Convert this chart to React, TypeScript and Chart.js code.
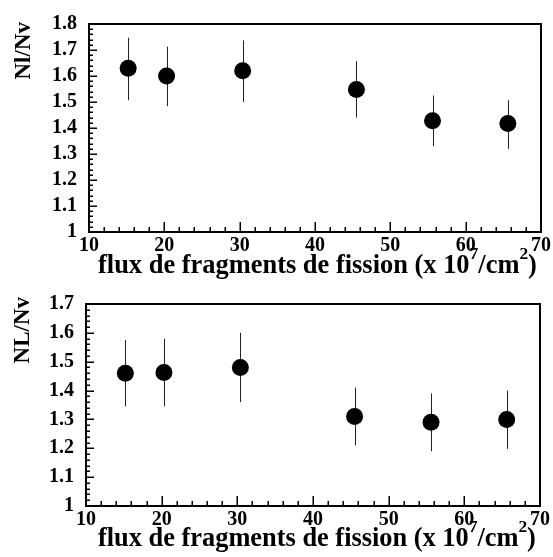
import React, { useEffect, useRef } from "react";
import { Chart, registerables } from "chart.js";

Chart.register(...registerables);

// ---- data ----
const flux = [15.2, 20.3, 30.4, 45.5, 55.6, 65.6];

const ratioNl = [1.63, 1.6, 1.62, 1.548, 1.428, 1.417];
const ratioNlHigh = [1.747, 1.713, 1.737, 1.657, 1.525, 1.507];
const ratioNlLow = [1.507, 1.484, 1.5, 1.44, 1.33, 1.32];

const ratioNL = [1.46, 1.463, 1.48, 1.31, 1.29, 1.3];
const ratioNLHigh = [1.575, 1.58, 1.6, 1.41, 1.39, 1.4];
const ratioNLLow = [1.345, 1.345, 1.36, 1.21, 1.19, 1.198];

const xTicks = [10, 20, 30, 40, 50, 60, 70];
const yTicksTop = [1, 1.1, 1.2, 1.3, 1.4, 1.5, 1.6, 1.7, 1.8];
const yTicksBottom = [1, 1.1, 1.2, 1.3, 1.4, 1.5, 1.6, 1.7];

const xTitleParts = [
  { t: "flux de fragments de fission (x 10", sup: false },
  { t: "7", sup: true },
  { t: "/cm", sup: false },
  { t: "2", sup: true },
  { t: ")", sup: false },
];

const FONT = "'Liberation Serif', 'Times New Roman', serif";
const W = 553;

type Panel = {
  top: number;
  height: number;
  area: { left: number; right: number; top: number; bottom: number };
  yMax: number;
  yTicks: number[];
  yTitle: string;
  values: number[];
  high: number[];
  low: number[];
  xTitleBaseline: number;
  xTitleLeft: number;
  xTitleRight: number;
  yTitleX: number;
  yTitleTop: number;
};

const panels: Panel[] = [
  {
    top: 0,
    height: 280,
    area: { left: 89, right: 542, top: 19, bottom: 232 },
    yMax: 1.8,
    yTicks: yTicksTop,
    yTitle: "Nl/Nv",
    values: ratioNl,
    high: ratioNlHigh,
    low: ratioNlLow,
    xTitleBaseline: 273,
    xTitleLeft: 98,
    xTitleRight: 537,
    yTitleX: 24,
    yTitleTop: 22,
  },
  {
    top: 280,
    height: 277,
    area: { left: 86, right: 540, top: 13, bottom: 226 },
    yMax: 1.7,
    yTicks: yTicksBottom,
    yTitle: "NL/Nv",
    values: ratioNL,
    high: ratioNLHigh,
    low: ratioNLLow,
    xTitleBaseline: 266,
    xTitleLeft: 98,
    xTitleRight: 536,
    yTitleX: 23,
    yTitleTop: 17,
  },
];

function decorPlugin(p: Panel) {
  return {
    id: "decor",
    beforeDatasetsDraw(chart: any) {
      const ctx = chart.ctx as CanvasRenderingContext2D;
      const a = chart.chartArea;
      const xs = chart.scales.x;
      const ys = chart.scales.y;
      ctx.save();
      ctx.strokeStyle = "#000";
      const line = (x1: number, y1: number, x2: number, y2: number) => {
        ctx.beginPath();
        ctx.moveTo(x1, y1);
        ctx.lineTo(x2, y2);
        ctx.stroke();
      };
      // inward ticks, x
      ctx.lineWidth = 1.5;
      for (let i = 0; i <= 30; i++) {
        const v = 10 + i * 2;
        const px = Math.round(xs.getPixelForValue(v)) + 0.25;
        const major = i % 5 === 0;
        line(px, a.bottom, px, a.bottom - (major ? 10 : 5));
      }
      // inward ticks, y
      const nY = Math.round((p.yMax - 1) / 0.02);
      for (let i = 0; i <= nY; i++) {
        const v = 1 + i * 0.02;
        const py = Math.round(ys.getPixelForValue(v)) + 0.25;
        const major = i % 5 === 0;
        line(a.left, py, a.left + (major ? 8 : 4), py);
      }
      // error bars
      ctx.lineWidth = 1;
      ctx.strokeStyle = "#222";
      for (let i = 0; i < flux.length; i++) {
        const px = Math.round(xs.getPixelForValue(flux[i])) + 0.5;
        line(px, ys.getPixelForValue(p.high[i]), px, ys.getPixelForValue(p.low[i]));
      }
      // frame
      ctx.strokeStyle = "#000";
      ctx.lineWidth = 2;
      ctx.strokeRect(a.left, a.top, a.right - a.left, a.bottom - a.top);
      ctx.restore();
    },
    afterDraw(chart: any) {
      const ctx = chart.ctx as CanvasRenderingContext2D;
      ctx.save();
      ctx.fillStyle = "#000";
      // y title
      ctx.save();
      ctx.translate(p.yTitleX, p.yTitleTop);
      ctx.rotate(-Math.PI / 2);
      ctx.font = `bold 23px ${FONT}`;
      ctx.textAlign = "right";
      ctx.textBaseline = "middle";
      ctx.fillText(p.yTitle, 0, 0);
      ctx.restore();
      // x title with superscripts, fitted between left and right
      const base = 21;
      const supRatio = 0.66;
      const measure = (size: number) => {
        let w = 0;
        for (const part of xTitleParts) {
          ctx.font = `bold ${part.sup ? size * supRatio : size}px ${FONT}`;
          w += ctx.measureText(part.t).width;
        }
        return w;
      };
      const target = p.xTitleRight - p.xTitleLeft;
      const size = base * (target / measure(base));
      let x = p.xTitleLeft;
      ctx.textAlign = "left";
      ctx.textBaseline = "alphabetic";
      for (const part of xTitleParts) {
        const s = part.sup ? size * supRatio : size;
        ctx.font = `bold ${s}px ${FONT}`;
        const y = part.sup ? p.xTitleBaseline - size * 0.52 : p.xTitleBaseline;
        ctx.fillText(part.t, x, y);
        x += ctx.measureText(part.t).width;
      }
      ctx.restore();
    },
  };
}

function PanelChart({ p }: { p: Panel }) {
  const ref = useRef<HTMLCanvasElement | null>(null);
  useEffect(() => {
    if (!ref.current) return;
    const tickFont = { family: FONT, size: 20, weight: "bold" as const };
    const chart = new Chart(ref.current, {
      type: "scatter",
      data: {
        datasets: [
          {
            data: flux.map((x, i) => ({ x, y: p.values[i] })),
            pointRadius: 8.5,
            pointHoverRadius: 8.5,
            backgroundColor: "#000",
            borderColor: "#000",
            borderWidth: 0,
            showLine: false,
          },
        ],
      },
      options: {
        animation: false,
        responsive: false,
        devicePixelRatio: 1,
        layout: {
          padding: { top: p.area.top, right: W - p.area.right, left: 0, bottom: 0 },
        },
        plugins: { legend: { display: false }, tooltip: { enabled: false } },
        scales: {
          x: {
            type: "linear",
            min: 10,
            max: 70,
            afterFit: (s: any) => {
              s.height = p.height - p.area.bottom;
            },
            afterBuildTicks: (s: any) => {
              s.ticks = xTicks.map((v) => ({ value: v }));
            },
            grid: { display: false, drawTicks: false },
            border: { display: false },
            ticks: {
              font: tickFont,
              color: "#000",
              padding: 2,
              maxRotation: 0,
              autoSkip: false,
              callback: (v: any) => String(v),
            },
          },
          y: {
            type: "linear",
            min: 1,
            max: p.yMax,
            afterFit: (s: any) => {
              s.width = p.area.left;
            },
            afterBuildTicks: (s: any) => {
              s.ticks = p.yTicks.map((v) => ({ value: v }));
            },
            grid: { display: false, drawTicks: false },
            border: { display: false },
            ticks: {
              font: tickFont,
              color: "#000",
              padding: 12,
              autoSkip: false,
              callback: (v: any) => String(Number(Number(v).toFixed(1))),
            },
          },
        },
      },
      plugins: [decorPlugin(p)],
    });
    return () => chart.destroy();
  }, [p]);
  return (
    <canvas
      ref={ref}
      width={W}
      height={p.height}
      style={{ position: "absolute", left: 0, top: p.top, width: W, height: p.height }}
    />
  );
}

export default function App() {
  return (
    <div
      style={{
        position: "fixed",
        left: 0,
        top: 0,
        width: W,
        height: 557,
        background: "#fff",
        overflow: "hidden",
      }}
    >
      {panels.map((p, i) => (
        <PanelChart key={i} p={p} />
      ))}
    </div>
  );
}
